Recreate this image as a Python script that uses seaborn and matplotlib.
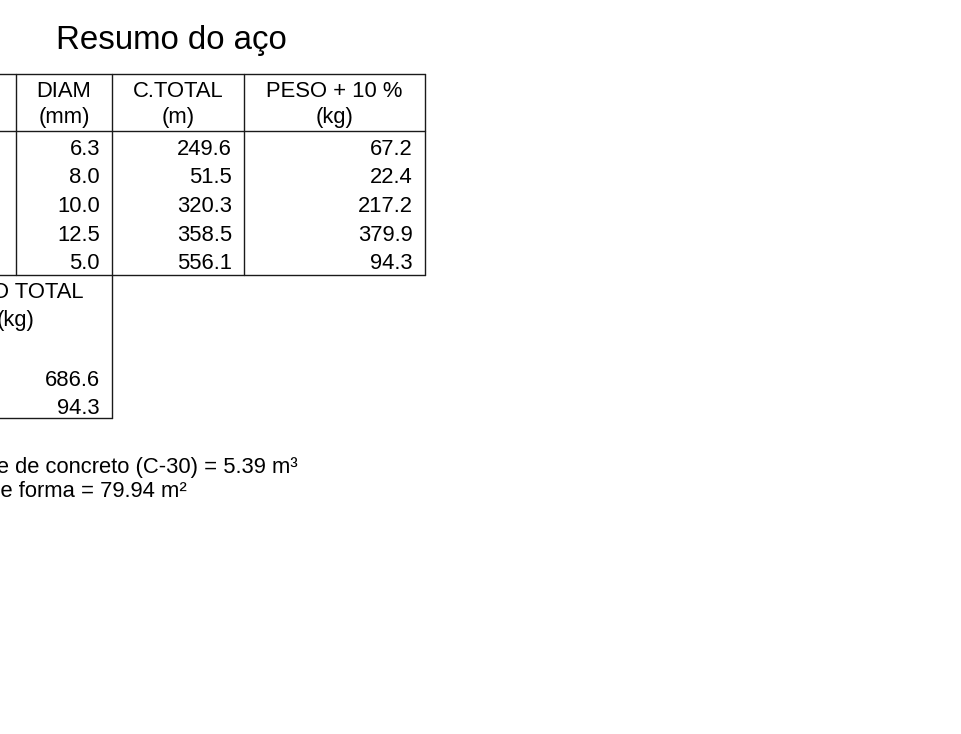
import matplotlib
matplotlib.use("Agg")
import matplotlib.pyplot as plt
import seaborn as sns

# Table data (left-hand columns are cut off in the reference)
title = "Resumo do aço"
header_top = ["DIAM", "C.TOTAL", "PESO + 10 %"]
header_unit = ["(mm)", "(m)", "(kg)"]
diam = [6.3, 8.0, 10.0, 12.5, 5.0]
c_total = [249.6, 51.5, 320.3, 358.5, 556.1]
peso = [67.2, 22.4, 217.2, 379.9, 94.3]
total_label = ["PESO TOTAL", "(kg)"]
peso_total = [686.6, 94.3]
volume_concreto = 5.39
area_forma = 79.94

sns.set_theme(style="white")
plt.rcParams["font.family"] = ["Liberation Sans", "DejaVu Sans"]
plt.rcParams["text.color"] = "black"

fig = plt.figure(figsize=(9.61, 7.34), dpi=100)
ax = fig.add_axes([0, 0, 1, 1])
ax.set_xlim(0, 961)
ax.set_ylim(734, 0)
ax.axis("off")

fs = 15.8
line_kw = dict(color="#1a1a1a", lw=1.0)

# column edges (pixel layout)
edges = [16, 112, 244, 425]
top, head_sep, body_bottom, total_bottom = 74, 131, 275, 418

ax.text(171, 49, title, fontsize=23.8, ha="center", va="baseline")

# grid lines
for y in [top, head_sep, body_bottom]:
    ax.plot([-100, edges[-1]], [y, y], **line_kw)
ax.plot([-100, edges[1]], [total_bottom, total_bottom], **line_kw)
for x in edges:
    ax.plot([x, x], [top, body_bottom], **line_kw)
ax.plot([edges[1], edges[1]], [body_bottom, total_bottom], **line_kw)

# header
for i in range(3):
    cx = (edges[i] + edges[i + 1]) / 2
    ax.text(cx, 97, header_top[i], fontsize=fs, ha="center", va="baseline")
    ax.text(cx, 123, header_unit[i], fontsize=fs, ha="center", va="baseline")

# body rows
row_base = [155, 183, 212, 241, 269]
for j, y in enumerate(row_base):
    for i, col in enumerate([diam, c_total, peso]):
        ax.text(edges[i + 1] - 12, y, f"{col[j]:.1f}", fontsize=fs,
                ha="right", va="baseline")

# total box (left part is cropped off, as in the reference)
ax.text(16, 298, total_label[0], fontsize=fs, ha="center", va="baseline")
ax.text(16, 326, total_label[1], fontsize=fs, ha="center", va="baseline")
for v, y in zip(peso_total, [386, 414]):
    ax.text(edges[1] - 12, y, f"{v:.1f}", fontsize=fs, ha="right", va="baseline")

# notes
ax.text(-64, 473, f"Volume de concreto (C-30) = {volume_concreto:.2f} m³",
        fontsize=fs, ha="left", va="baseline")
ax.text(-64, 497, f"Área de forma = {area_forma:.2f} m²",
        fontsize=fs, ha="left", va="baseline")

fig.savefig("out.png", dpi=100, facecolor="white")
